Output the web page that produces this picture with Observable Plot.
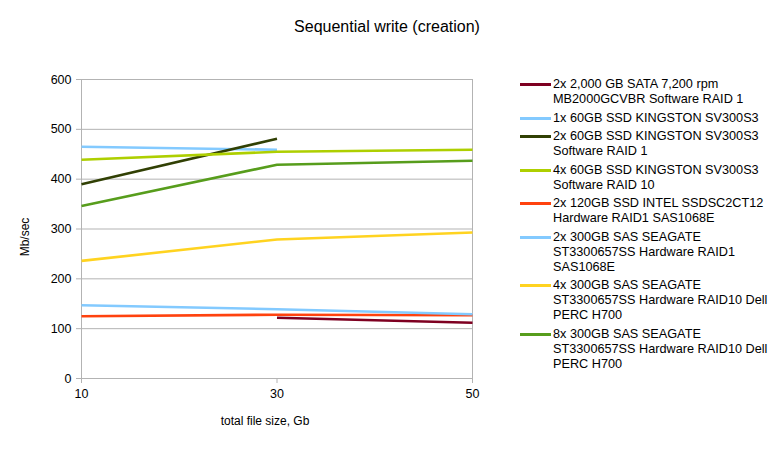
<!DOCTYPE html>
<html>
<head>
<meta charset="utf-8">
<script src="https://cdn.jsdelivr.net/npm/d3@7"></script>
<script src="https://cdn.jsdelivr.net/npm/@observablehq/plot@0.6"></script>
<style>
  html, body { margin: 0; padding: 0; background: #fff; }
  #wrap { position: relative; width: 774px; height: 449px; font-family: "Liberation Sans", Arial, sans-serif; color: #000; }
  #wrap svg { position: absolute; left: 0; top: 0; }
  .title { position: absolute; left: 0; width: 774px; top: 18px; text-align: center; font-size: 16px; padding-left: 0px; }
  .xlabel { position: absolute; left: 165px; width: 200px; top: 414px; text-align: center; font-size: 12px; }
  .ylabel { position: absolute; left: 25px; top: 237px; font-size: 12px; transform: translate(-50%, -50%) rotate(-90deg); white-space: nowrap; }
  .legend { position: absolute; left: 520px; top: 77px; width: 254px; font-size: 12.7px; }
  .item { display: flex; align-items: flex-start; margin-bottom: 3.5px; }
  .swatch { width: 31px; height: 3px; margin-top: 6px; margin-right: 2px; flex: none; }
  .lab { width: 218px; line-height: 15px; }
</style>
</head>
<body>
<div id="wrap"></div>
<script>
const title = "Sequential write (creation)";
const xLabel = "total file size, Gb";
const yLabel = "Mb/sec";
const xTicks = [10, 30, 50];
const yTicks = [0, 100, 200, 300, 400, 500, 600];

const seriesNames = [
  "2x 2,000 GB SATA 7,200 rpm MB2000GCVBR Software RAID 1",
  "1x 60GB SSD KINGSTON SV300S3",
  "2x 60GB SSD KINGSTON SV300S3 Software RAID 1",
  "4x 60GB SSD KINGSTON SV300S3 Software RAID 10",
  "2x 120GB SSD INTEL SSDSC2CT12 Hardware RAID1 SAS1068E",
  "2x 300GB SAS SEAGATE ST3300657SS Hardware RAID1 SAS1068E",
  "4x 300GB SAS SEAGATE ST3300657SS Hardware RAID10 Dell PERC H700",
  "8x 300GB SAS SEAGATE ST3300657SS Hardware RAID10 Dell PERC H700"
];
const seriesColors = ["#7e0021", "#83caff", "#314004", "#aecf00", "#ff420e", "#83caff", "#ffd320", "#579d1c"];

// values at file sizes 10, 30, 50 (null = not measured)
const fileSizes = [10, 30, 50];
const s1 = [null, 122, 112];
const s2 = [465, 459, null];
const s3 = [390, 481, null];
const s4 = [439, 455, 459];
const s5 = [125, 128, 127];
const s6 = [147, 139, 129];
const s7 = [236, 279, 293];
const s8 = [346, 429, 437];
const seriesValues = [s1, s2, s3, s4, s5, s6, s7, s8];

const rows = [];
seriesValues.forEach((vals, i) => {
  vals.forEach((v, j) => {
    if (v != null) rows.push({series: seriesNames[i], idx: i, x: fileSizes[j], y: v});
  });
});

const gridColor = "#b3b3b3";

const chart = Plot.plot({
  width: 774,
  height: 449,
  marginLeft: 81,
  marginRight: 302,
  marginTop: 79,
  marginBottom: 71,
  style: {fontFamily: "'Liberation Sans', Arial, sans-serif", fontSize: "12.5px", color: "#000", background: "#fff"},
  x: {type: "linear", domain: [10, 50], ticks: xTicks, label: null},
  y: {domain: [0, 600], ticks: yTicks, label: null},
  color: {type: "ordinal", domain: seriesNames, range: seriesColors},
  marks: [
    Plot.gridY(yTicks, {stroke: gridColor, strokeOpacity: 1, strokeWidth: 1}),
    Plot.ruleX([10, 50], {stroke: gridColor, strokeWidth: 1}),
    Plot.axisY({ticks: yTicks, tickSize: 5, tickPadding: 5, stroke: gridColor, fontSize: 12.5, fill: "#000"}),
    Plot.axisX({ticks: xTicks, tickSize: 5, tickPadding: 6, stroke: gridColor, fontSize: 12.5, fill: "#000"}),
    Plot.lineY(rows, {x: "x", y: "y", z: "series", stroke: "series", strokeWidth: 2.6, strokeLinecap: "butt", strokeLinejoin: "round", sort: {channel: "x"}})
  ]
});

const wrap = document.getElementById("wrap");
wrap.appendChild(chart);

const t = document.createElement("div"); t.className = "title"; t.textContent = title; wrap.appendChild(t);
const xl = document.createElement("div"); xl.className = "xlabel"; xl.textContent = xLabel; wrap.appendChild(xl);
const yl = document.createElement("div"); yl.className = "ylabel"; yl.textContent = yLabel; wrap.appendChild(yl);

const leg = document.createElement("div"); leg.className = "legend";
seriesNames.forEach((name, i) => {
  const it = document.createElement("div"); it.className = "item";
  const sw = document.createElement("div"); sw.className = "swatch"; sw.style.background = seriesColors[i];
  const lb = document.createElement("div"); lb.className = "lab"; lb.textContent = name;
  it.appendChild(sw); it.appendChild(lb); leg.appendChild(it);
});
wrap.appendChild(leg);
</script>
</body>
</html>
